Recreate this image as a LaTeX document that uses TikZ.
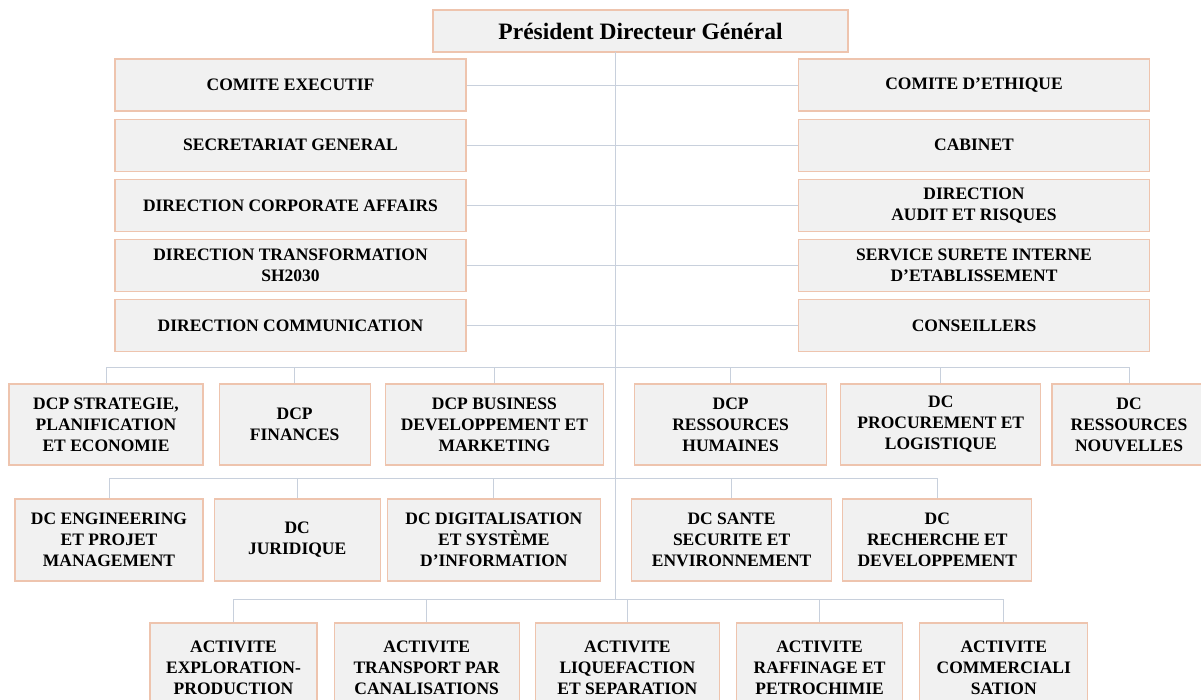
\documentclass[tikz,border=0pt]{standalone}
\usepackage{fontspec}
\setmainfont{Liberation Serif}
\usetikzlibrary{positioning}
\definecolor{rim}{HTML}{EEC4AE}
\definecolor{shade}{HTML}{F1F1F1}
\definecolor{wire}{HTML}{C8D0DC}
\tikzset{ % global config
    unit/.style={draw=rim, fill=shade, line width=1.2pt, align=center, inner sep=2pt,
        font=\bfseries\fontsize{17.5}{21}\selectfont}, % every box of the chart
    side/.style={unit, minimum width=351pt, minimum height=52pt}, % the two staff columns
    dcp/.style={unit, minimum height=81pt}, % first row of directions
    dc/.style={unit, minimum height=82pt}, % second row of directions
    act/.style={unit, minimum height=90pt}, % activities
    link/.style={draw=wire, line width=1pt}, % connectors
    node distance=7pt,
}
\begin{document}
\begin{tikzpicture}[x=1pt, y=-1pt]
    \useasboundingbox (0,0) rectangle (1201,699);

		\node[unit, minimum width=415pt, minimum height=42pt, font=\bfseries\fontsize{23.5}{27}\selectfont] (pdg) at (640.5,31) {Président Directeur Général};

		% staff, left
		\node[side] (ce) at (290.5,85) {COMITE EXECUTIF};
		\node[side, below=of ce] (sg) {SECRETARIAT GENERAL};
		\node[side, below=of sg] (dca) {DIRECTION CORPORATE AFFAIRS};
		\node[side, below=of dca] (dt) {DIRECTION TRANSFORMATION\\SH2030};
		\node[side, below=of dt] (dcm) {DIRECTION COMMUNICATION};
		% staff, right
		\node[side] (cet) at (974,85) {COMITE D’ETHIQUE};
		\node[side, below=of cet] (cab) {CABINET};
		\node[side, below=of cab] (dar) {DIRECTION\\AUDIT ET RISQUES};
		\node[side, below=of dar] (sse) {SERVICE SURETE INTERNE\\D’ETABLISSEMENT};
		\node[side, below=of sse] (cons) {CONSEILLERS};

		% first row
		\node[dcp, minimum width=194pt] (dcp1) at (106,424.5) {DCP STRATEGIE,\\PLANIFICATION\\ET ECONOMIE};
		\node[dcp, minimum width=151pt, right=15pt of dcp1] (dcp2) {DCP\\FINANCES};
		\node[dcp, minimum width=218pt, right=14pt of dcp2] (dcp3) {DCP BUSINESS\\DEVELOPPEMENT ET\\MARKETING};
		\node[dcp, minimum width=192pt, right=30pt of dcp3] (dcp4) {DCP\\RESSOURCES\\HUMAINES};
		\node[dcp, minimum width=200pt, right=13pt of dcp4] (dcp5) {DC\\PROCUREMENT ET\\LOGISTIQUE};
		\node[dcp, minimum width=154pt, right=10pt of dcp5] (dcp6) {DC\\RESSOURCES\\NOUVELLES};

		% second row
		\node[dc, minimum width=188pt] (dc1) at (109,540) {DC ENGINEERING\\ET PROJET\\MANAGEMENT};
		\node[dc, minimum width=166pt, right=10pt of dc1] (dc2) {DC\\JURIDIQUE};
		\node[dc, minimum width=213pt, right=6pt of dc2] (dc3) {DC DIGITALISATION\\ET SYSTÈME\\D'INFORMATION};
		\node[dc, minimum width=200pt, right=30pt of dc3] (dc4) {DC SANTE\\SECURITE ET\\ENVIRONNEMENT};
		\node[dc, minimum width=189pt, right=10pt of dc4] (dc5) {DC\\RECHERCHE ET\\DEVELOPPEMENT};

		% activities
		\node[act, minimum width=167pt] (act1) at (233.5,668) {ACTIVITE\\EXPLORATION-\\PRODUCTION};
		\node[act, minimum width=185pt, right=16pt of act1] (act2) {ACTIVITE\\TRANSPORT PAR\\CANALISATIONS};
		\node[act, minimum width=184pt, right=15pt of act2] (act3) {ACTIVITE\\LIQUEFACTION\\ET SEPARATION};
		\node[act, minimum width=166pt, right=16pt of act3] (act4) {ACTIVITE\\RAFFINAGE ET\\PETROCHIMIE};
		\node[act, minimum width=168pt, right=16pt of act4] (act5) {ACTIVITE\\COMMERCIALI\\SATION};

		% connectors
		\coordinate (top) at (615,52);
		\coordinate (foot) at (615,599);
		\coordinate (bus1) at (0,367);
		\coordinate (bus2) at (0,478);
		\draw[link] (top) -- (foot);
		\foreach \n in {ce,sg,dca,dt,dcm}
			\draw[link] (\n.east) -- (\n.east -| top);
		\foreach \n in {cet,cab,dar,sse,cons}
			\draw[link] (\n.west) -- (\n.west -| top);
		\draw[link] (bus1 -| dcp1) -- (bus1 -| dcp6);
		\foreach \n in {dcp1,dcp2,dcp3,dcp4,dcp5,dcp6}
			\draw[link] (\n.north) -- (\n.north |- bus1);
		\draw[link] (bus2 -| dc1) -- (bus2 -| dc5);
		\foreach \n in {dc1,dc2,dc3,dc4,dc5}
			\draw[link] (\n.north) -- (\n.north |- bus2);
		\draw[link] (foot -| act1) -- (foot -| act5);
		\foreach \n in {act1,act2,act3,act4,act5}
			\draw[link] (\n.north) -- (\n.north |- foot);

	\end{tikzpicture}
\end{document}
